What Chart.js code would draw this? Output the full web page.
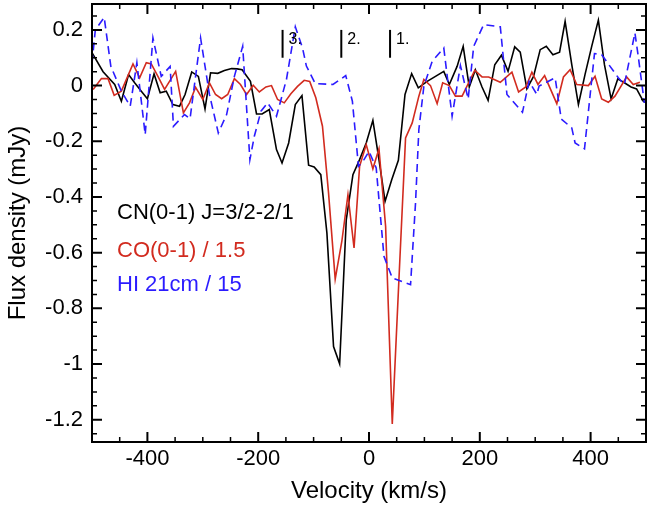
<!DOCTYPE html>
<html>
<head>
<meta charset="utf-8">
<script src="https://cdn.jsdelivr.net/npm/chart.js@4"></script>
<style>
  html, body { margin: 0; padding: 0; background: #fff; }
  #wrap { width: 647px; height: 510px; }
</style>
</head>
<body>
<div id="wrap"><canvas id="spec" width="647" height="510"></canvas></div>
<script>
// spectra: velocity (km/s) and flux density (mJy)
var cnVel = [-510, -498, -480, -459, -447, -434, -423, -411, -400, -388, -377, -366, -354, -342, -332,
  -320, -308, -296, -286, -273, -261, -248, -238, -229, -214, -203, -193, -180, -167, -157,
  -145, -133, -121, -109, -99, -87, -76, -64, -53, -41, -29, -17, -5, 7, 18,
  29, 41, 53, 65, 77, 89, 105, 120, 135, 145, 159, 170, 181, 192, 204,
  215, 227, 239, 251, 263, 273, 285, 297, 309, 320, 332, 344, 354, 366, 378,
  390, 402, 414, 425, 437, 449, 461, 473, 483, 495, 507];
var cnFlux = [0.07, 0.111, 0.050, 0.004, -0.056, 0.040, 0.010, -0.020, -0.047, 0.042, -0.026, -0.020, -0.068, -0.074, -0.032,
  0.049, 0.033, -0.084, 0.046, 0.044, 0.054, 0.061, 0.060, 0.057, 0.015, -0.102, -0.102, -0.086, -0.230, -0.278,
  -0.206, -0.068, -0.036, -0.286, -0.292, -0.320, -0.529, -0.937, -0.999, -0.481, -0.320, -0.266, -0.206, -0.125, -0.266,
  -0.416, -0.338, -0.268, -0.032, 0.043, -0.008, 0.015, 0.033, 0.051, 0.004, 0.069, 0.141, -0.005, 0.057, -0.005,
  -0.053, 0.075, 0.109, 0.051, 0.139, 0.120, -0.012, 0.033, 0.129, 0.141, 0.111, 0.120, 0.231, 0.075, -0.068,
  0.040, 0.141, 0.235, 0.075, -0.048, 0.024, 0.010, -0.005, -0.012, -0.056, -0.07];

var coVel = [-498, -483, -471, -460, -447, -426, -414, -402, -393, -381, -369, -349, -335, -324, -313,
  -300, -288, -277, -266, -255, -243, -232, -221, -209, -198, -186, -176, -165, -153, -141,
  -129, -117, -107, -96, -84, -73, -61, -49, -38, -27, -17, -5, 7, 18, 30,
  42, 54, 66, 78, 90, 99, 111, 123, 133, 145, 156, 168, 191, 204, 216,
  237, 258, 270, 283, 294, 305, 317, 339, 351, 363, 375, 396, 408, 420, 432,
  444, 465, 477, 489];
var coFlux = [-0.014, 0.025, 0.025, -0.035, -0.020, 0.078, 0.028, 0.082, 0.078, 0.033, -0.014, 0.051, -0.098, -0.062, -0.006,
  -0.050, 0.010, -0.032, -0.047, -0.032, 0.025, 0.004, -0.032, 0.001, -0.023, -0.005, 0, -0.050, -0.062, -0.029,
  -0.003, 0.019, 0.015, -0.044, -0.146, -0.386, -0.695, -0.559, -0.392, -0.583, -0.290, -0.212, -0.299, -0.227, -0.506,
  -1.215, -0.697, -0.188, -0.134, -0.038, 0.022, 0, -0.065, 0.010, 0, -0.038, -0.038, 0.055, 0.031, 0.031,
  0.012, 0.048, -0.023, -0.005, 0.048, 0.004, 0.036, -0.065, 0.031, 0.057, 0.004, 0, 0.033, -0.048, -0.060,
  -0.038, 0.031, 0.004, 0.012];

var hiVel = [-500, -494, -478, -466, -447, -431, -419, -404, -390, -375, -359, -353, -333, -323, -304,
  -288, -272, -257, -243, -228, -215, -207, -195, -183, -167, -149, -133, -120, -113, -97,
  -65, -42, -30, -19, -9, 0, 13, 27, 42, 75, 84, 90, 99, 114, 135,
  150, 165, 179, 189, 207, 237, 249, 277, 289, 303, 307, 336, 347, 366, 372,
  389, 407, 420, 450, 461, 480, 486, 497];
var hiFlux = [0.08, 0.20, 0.245, 0.069, -0.020, -0.074, 0.082, -0.176, 0.171, 0.033, 0.069, -0.146, -0.104, -0.119, 0.171,
  -0.032, -0.170, -0.104, 0.033, 0.141, -0.266, -0.182, -0.092, -0.062, -0.110, 0.022, 0.211, 0.135, 0.070, 0.007,
  0.004, 0.036, -0.056, -0.290, -0.266, -0.236, -0.296, -0.613, -0.691, -0.715, -0.421, -0.158, -0.003, 0.087, 0.135,
  -0.110, 0.072, -0.048, 0.141, 0.219, 0.211, -0.032, -0.096, 0.015, -0.032, -0.002, 0.028, -0.120, -0.152, -0.206,
  -0.227, 0.115, 0.111, 0.028, 0.004, 0.189, 0.105, -0.062];

var seriesLabels = ['CN(0-1) J=3/2-2/1', 'CO(0-1) / 1.5', 'HI 21cm / 15'];
var seriesColors = ['#000000', '#d22b1f', '#2b1bff'];

// velocity components marked at the top
var markerVel = [-156, -50, 38];
var markerLabels = ['3.', '2.', '1.'];

var xTicks = [-400, -200, 0, 200, 400];
var yTicks = [0.2, 0, -0.2, -0.4, -0.6, -0.8, -1, -1.2];

var fontFamily = "'Liberation Sans', Arial, Helvetica, sans-serif";

function toPoints(vel, flux) {
  return vel.map(function(v, i) { return { x: v, y: flux[i] }; });
}

// box round the plot with inward ticks on all four sides
var frameTicks = {
  id: 'frameTicks',
  afterDatasetsDraw: function(chart) {
    var ctx = chart.ctx, a = chart.chartArea;
    var xs = chart.scales.x, ys = chart.scales.y;
    ctx.save();
    ctx.strokeStyle = '#000';
    ctx.lineWidth = 2;
    ctx.strokeRect(a.left, a.top, a.right - a.left, a.bottom - a.top);
    for (var v = -500; v <= 500; v += 50) {
      var px = xs.getPixelForValue(v);
      var major = v % 200 === 0;
      var len = major ? 10 : 5;
      ctx.lineWidth = major ? 2 : 1.5;
      ctx.beginPath();
      ctx.moveTo(px, a.bottom); ctx.lineTo(px, a.bottom - len);
      ctx.moveTo(px, a.top); ctx.lineTo(px, a.top + len);
      ctx.stroke();
    }
    for (var i = -25; i <= 5; i++) {
      var py = ys.getPixelForValue(i * 0.05);
      var maj = i % 4 === 0;
      var l = maj ? 10 : 5;
      ctx.lineWidth = maj ? 2 : 1.5;
      ctx.beginPath();
      ctx.moveTo(a.left, py); ctx.lineTo(a.left + l, py);
      ctx.moveTo(a.right, py); ctx.lineTo(a.right - l, py);
      ctx.stroke();
    }
    ctx.restore();
  }
};

// component markers and the text legend inside the plot
var annotations = {
  id: 'annotations',
  afterDraw: function(chart) {
    var ctx = chart.ctx, a = chart.chartArea;
    var xs = chart.scales.x, ys = chart.scales.y;
    ctx.save();
    ctx.strokeStyle = '#000';
    ctx.fillStyle = '#000';
    ctx.lineWidth = 2;
    ctx.font = '16px ' + fontFamily;
    ctx.textBaseline = 'alphabetic';
    markerVel.forEach(function(v, i) {
      var px = xs.getPixelForValue(v);
      var top = ys.getPixelForValue(0.2), bot = ys.getPixelForValue(0.1);
      ctx.beginPath();
      ctx.moveTo(px, top); ctx.lineTo(px, bot);
      ctx.stroke();
      ctx.fillText(markerLabels[i], px + 6, top + 14);
    });

    ctx.font = '22px ' + fontFamily;
    var baselines = [219, 257, 291];
    seriesLabels.forEach(function(t, i) {
      ctx.fillStyle = seriesColors[i];
      ctx.fillText(t, a.left + 25, baselines[i]);
    });
    ctx.restore();
  }
};

var ctx = document.getElementById('spec').getContext('2d');
var chart = new Chart(ctx, {
  type: 'scatter',
  data: {
    datasets: [
      {
        label: seriesLabels[2],
        data: toPoints(hiVel, hiFlux),
        showLine: true,
        borderColor: seriesColors[2],
        borderWidth: 1.6,
        borderDash: [8, 5],
        pointRadius: 0,
        order: 0
      },
      {
        label: seriesLabels[1],
        data: toPoints(coVel, coFlux),
        showLine: true,
        borderColor: seriesColors[1],
        borderWidth: 1.6,
        pointRadius: 0,
        order: 1
      },
      {
        label: seriesLabels[0],
        data: toPoints(cnVel, cnFlux),
        showLine: true,
        borderColor: seriesColors[0],
        borderWidth: 1.6,
        pointRadius: 0,
        order: 2
      }
    ]
  },
  options: {
    responsive: false,
    animation: false,
    layout: { padding: { top: 4, right: 1, left: 0, bottom: 0 } },
    plugins: {
      legend: { display: false },
      tooltip: { enabled: false }
    },
    scales: {
      x: {
        type: 'linear',
        min: -500,
        max: 500,
        afterBuildTicks: function(s) { s.ticks = xTicks.map(function(v) { return { value: v }; }); },
        afterFit: function(s) { s.height = 68; s.paddingLeft = 0; s.paddingRight = 0; },
        grid: { display: false, drawTicks: false },
        border: { display: false },
        ticks: {
          padding: 4,
          color: '#000',
          font: { family: fontFamily, size: 22 },
          callback: function(v) { return String(v); }
        },
        title: {
          display: true,
          text: 'Velocity (km/s)',
          color: '#000',
          font: { family: fontFamily, size: 24 },
          padding: { top: 0, bottom: 4 }
        }
      },
      y: {
        type: 'linear',
        min: -1.28,
        max: 0.293,
        afterBuildTicks: function(s) { s.ticks = yTicks.map(function(v) { return { value: v }; }); },
        afterFit: function(s) { s.width = 92; s.paddingTop = 0; s.paddingBottom = 0; },
        grid: { display: false, drawTicks: false },
        border: { display: false },
        ticks: {
          padding: 9,
          color: '#000',
          font: { family: fontFamily, size: 22 },
          callback: function(v) { return String(Math.round(v * 10) / 10); }
        },
        title: {
          display: true,
          text: 'Flux density (mJy)',
          color: '#000',
          font: { family: fontFamily, size: 24 },
          padding: { top: 4, bottom: 0 }
        }
      }
    }
  },
  plugins: [frameTicks, annotations]
});
</script>
</body>
</html>
